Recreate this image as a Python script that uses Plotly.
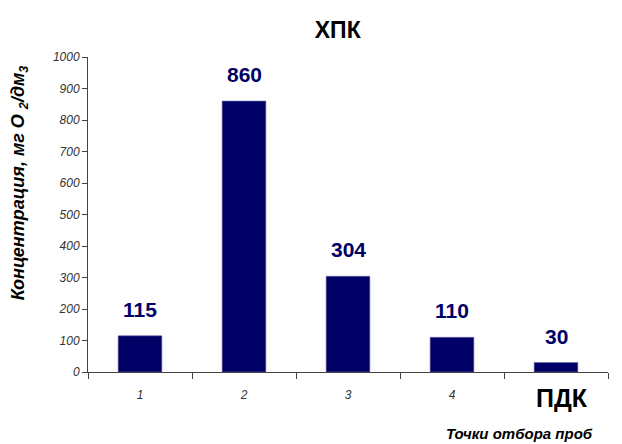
import plotly.graph_objects as go

categories = ["1", "2", "3", "4", "ПДК"]
values = [115, 860, 304, 110, 30]
tick_labels = ["1", "2", "3", "4", "ПДК"]
y_ticks = [0, 100, 200, 300, 400, 500, 600, 700, 800, 900, 1000]

FONT = "Liberation Sans, Arial, sans-serif"
NAVY = "#000066"

ticktext = [f"<i>{t}</i>" for t in tick_labels[:-1]] + [""]

fig = go.Figure()
fig.add_trace(go.Bar(
    x=categories, y=values,
    marker=dict(color=NAVY, line=dict(color="#6666aa", width=0.6)),
    width=0.42,
    hoverinfo="skip",
))

for i, v in enumerate(values):
    fig.add_annotation(
        x=i, y=v, text=f"<b>{v}</b>", showarrow=False,
        yanchor="bottom", yshift=13,
        font=dict(family=FONT, size=21, color=NAVY),
    )

# large bold label for the last category
fig.add_annotation(
    x=len(categories) - 1, xshift=6, yref="paper", y=0, yshift=-26,
    text=f"<b>{tick_labels[-1]}</b>", showarrow=False,
    xanchor="center", yanchor="middle",
    font=dict(family=FONT, size=25, color="black"),
)

# x-axis title
fig.add_annotation(
    xref="paper", yref="paper", x=0.83, y=-0.195,
    text="<b><i>Точки отбора проб</i></b>", showarrow=False,
    xanchor="center", yanchor="middle",
    font=dict(family=FONT, size=15, color="black"),
)

# y-axis title
fig.add_annotation(
    xref="paper", yref="paper", x=-0.132, y=0.6,
    text="<b><i>Концентрация, мг О <sub>2</sub>/дм<sub>3</sub></i></b>",
    showarrow=False, textangle=-90,
    xanchor="center", yanchor="middle",
    font=dict(family=FONT, size=18, color="black"),
)

fig.update_layout(
    width=622, height=444,
    margin=dict(l=88, r=14, t=57, b=72),
    paper_bgcolor="white", plot_bgcolor="white",
    showlegend=False,
    font=dict(family=FONT),
    title=dict(
        text="<b>ХПК</b>", x=0.543, xanchor="center", y=0.932, yanchor="middle",
        font=dict(family=FONT, size=23, color="black"),
    ),
    xaxis=dict(
        type="category",
        tickmode="array", tickvals=categories, ticktext=ticktext,
        tickson="boundaries", ticks="outside", ticklen=6, tickcolor="#444",
        ticklabelstandoff=12,
        showline=True, linecolor="#444", linewidth=1,
        showgrid=False, zeroline=False,
        tickfont=dict(family=FONT, size=12, color="#333"),
        range=[-0.5, 4.5],
    ),
    yaxis=dict(
        range=[0, 1000], tickvals=y_ticks,
        ticktext=[f"<i>{t}</i>" for t in y_ticks],
        ticks="outside", ticklen=5, tickcolor="#444",
        showline=True, linecolor="#444", linewidth=1,
        showgrid=False, zeroline=False,
        tickfont=dict(family=FONT, size=12, color="#333"),
    ),
)

fig.write_html("out.html")
